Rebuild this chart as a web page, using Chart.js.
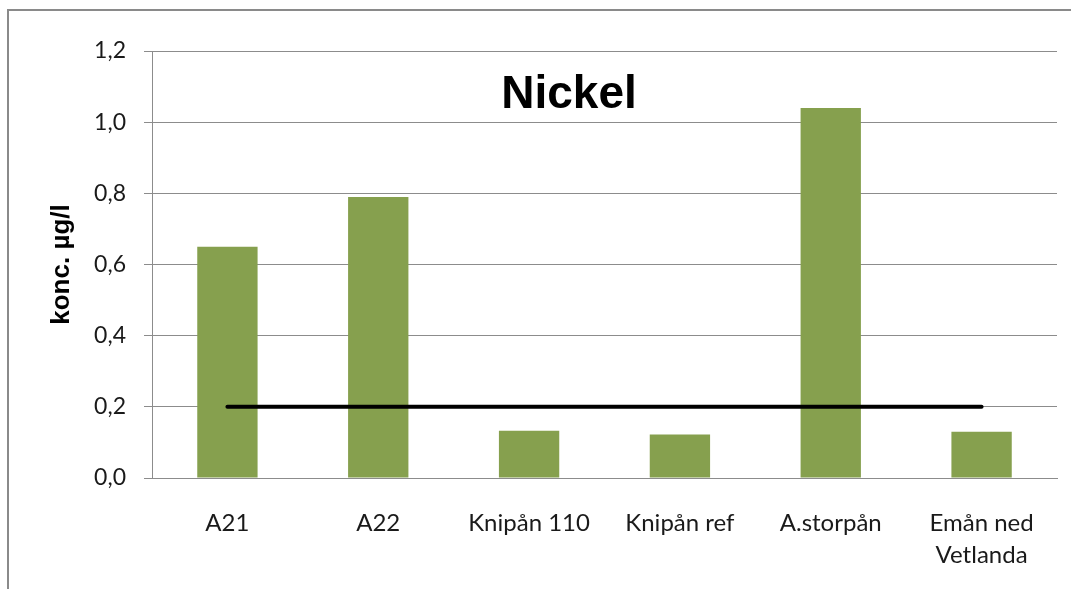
<!DOCTYPE html>
<html>
<head>
<meta charset="utf-8">
<script src="https://cdn.jsdelivr.net/npm/chart.js@4/dist/chart.umd.min.js"></script>
<style>
  html, body { margin: 0; padding: 0; background: #fff; }
  #frame {
    position: absolute; left: 7px; top: 9px; width: 1080px; height: 600px;
    border-left: 2px solid #8a8a8a; border-top: 2px solid #8a8a8a;
  }
  canvas { position: absolute; left: 0; top: 0; }
</style>
</head>
<body>
<div id="frame"></div>
<canvas id="chart" width="1071" height="589"></canvas>
<script>
const categories = ["A21", "A22", "Knipån 110", "Knipån ref", "A.storpån", ["Emån ned", "Vetlanda"]];
const nickelValues = [0.65, 0.79, 0.133, 0.122, 1.04, 0.13];
const limitValues = [0.2, 0.2, 0.2, 0.2, 0.2, 0.2];
const yTicks = [0, 0.2, 0.4, 0.6, 0.8, 1.0, 1.2];

const tickFamily = "Lato, 'Open Sans', sans-serif";

// title sits inside the plot area, like the original
const titleInside = {
  id: "titleInside",
  afterDraw(chart) {
    const { ctx, chartArea } = chart;
    ctx.save();
    ctx.font = "bold 46px 'Liberation Sans', Arial, sans-serif";
    ctx.fillStyle = "#000";
    ctx.textAlign = "center";
    ctx.textBaseline = "alphabetic";
    ctx.fillText("Nickel", chartArea.left + 417, chartArea.top + 57);
    ctx.restore();
  }
};

const ctx = document.getElementById("chart").getContext("2d");
new Chart(ctx, {
  data: {
    labels: categories,
    datasets: [
      {
        type: "line",
        label: "Gräns",
        data: limitValues,
        borderColor: "#000",
        borderWidth: 4,
        borderCapStyle: "round",
        pointRadius: 0,
        order: 0
      },
      {
        type: "bar",
        label: "Nickel",
        data: nickelValues,
        backgroundColor: "#86a04e",
        categoryPercentage: 1,
        barPercentage: 0.4,
        order: 1
      }
    ]
  },
  options: {
    responsive: false,
    animation: false,
    layout: { padding: { top: 51, right: 14, left: 0, bottom: 0 } },
    plugins: {
      legend: { display: false },
      tooltip: { enabled: false }
    },
    scales: {
      x: {
        grid: { display: false },
        border: { color: "#8c8c8c", width: 1 },
        ticks: {
          color: "#1a1a1a",
          font: { family: tickFamily, size: 24, lineHeight: 1.35 },
          padding: 21,
          maxRotation: 0,
          autoSkip: false
        },
        afterFit(scale) { scale.height = 589 - 51 - 427; }
      },
      y: {
        min: 0,
        max: 1.2,
        afterBuildTicks(scale) { scale.ticks = yTicks.map(v => ({ value: v })); },
        grid: { color: "#8c8c8c", tickLength: 8 },
        border: { color: "#8c8c8c", width: 1 },
        ticks: {
          color: "#1a1a1a",
          font: { family: tickFamily, size: 23 },
          padding: 18,
          callback: v => v.toFixed(1).replace(".", ",")
        },
        title: {
          display: true,
          text: "konc. µg/l",
          color: "#000",
          font: { family: "'Liberation Sans', Arial, sans-serif", size: 26, weight: "bold" },
          padding: { top: 46, bottom: 0 }
        },
        afterFit(scale) { scale.width = 152; }
      }
    }
  },
  plugins: [titleInside]
});
</script>
</body>
</html>
